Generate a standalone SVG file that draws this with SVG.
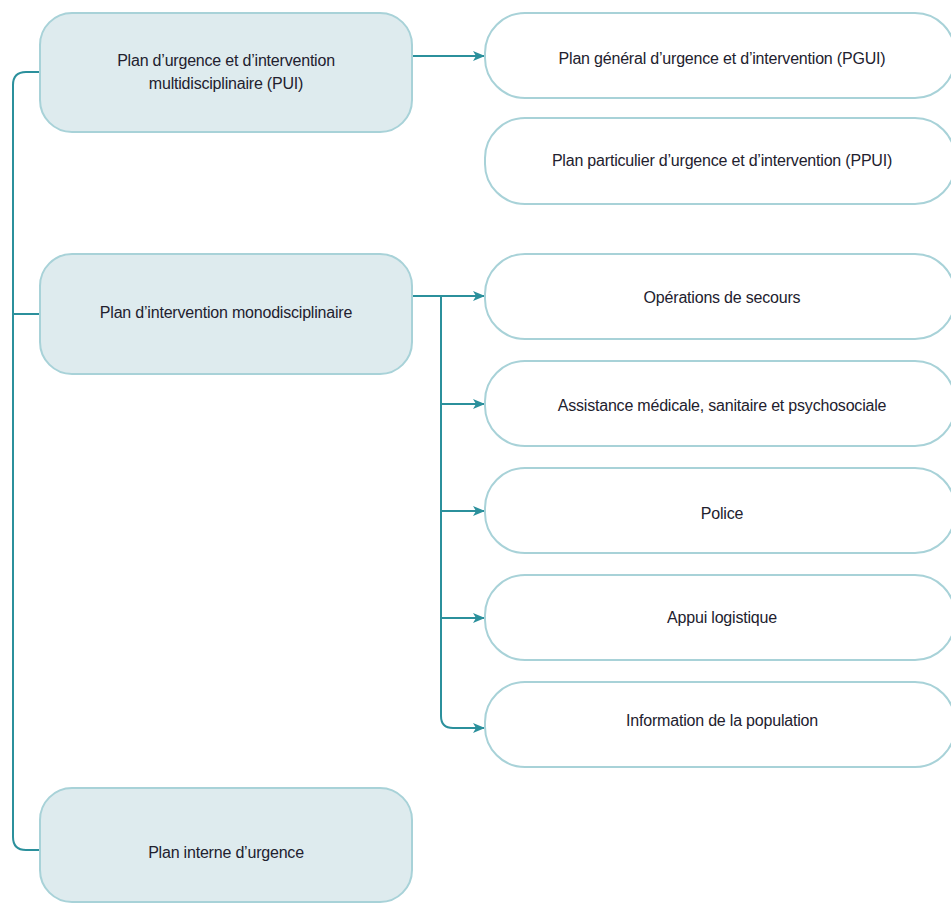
<svg xmlns="http://www.w3.org/2000/svg" width="951" height="903" viewBox="0 0 951 903">
<style>
.main{fill:#deebee;stroke:#a8d2d8;stroke-width:2}
.sub{fill:#ffffff;stroke:#a8d2d8;stroke-width:2}
text{font-family:"Liberation Sans",Arial,sans-serif;font-size:16px;fill:#22212e;text-anchor:middle;letter-spacing:-0.2px}
.conn{fill:none;stroke:#2b909c;stroke-width:2}
</style>
<defs>
<marker id="arr" markerWidth="12" markerHeight="10" refX="11" refY="5" orient="auto" markerUnits="userSpaceOnUse">
<path d="M0,0 L12,5 L0,10 L3,5 Z" fill="#2b909c"/>
</marker>
</defs>
<rect width="951" height="903" fill="#ffffff"/>
<g id="connectors">
<path class="conn" d="M40,72 H26 Q13,72 13,85 V837 Q13,850 26,850 H40"/>
<path class="conn" d="M13,314 H40"/>
<path class="conn" d="M412,56 H484" marker-end="url(#arr)"/>
<path class="conn" d="M412,296 H484" marker-end="url(#arr)"/>
<path class="conn" d="M441,296 V716 Q441,728 453,728 H484" marker-end="url(#arr)"/>
<path class="conn" d="M441,404 H484" marker-end="url(#arr)"/>
<path class="conn" d="M441,511 H484" marker-end="url(#arr)"/>
<path class="conn" d="M441,618 H484" marker-end="url(#arr)"/>
</g>
<g id="pui">
<rect class="main" x="40" y="13" width="372" height="119" rx="32"/>
<text x="226" y="66">Plan d’urgence et d’intervention</text>
<text x="226" y="89">multidisciplinaire (PUI)</text>
</g>
<g id="mono">
<rect class="main" x="40" y="254" width="372" height="120" rx="32"/>
<text x="226" y="318">Plan d’intervention monodisciplinaire</text>
</g>
<g id="interne">
<rect class="main" x="40" y="788" width="372" height="114" rx="32"/>
<text x="226" y="858">Plan interne d’urgence</text>
</g>
<g id="pgui">
<rect class="sub" x="485" y="13" width="470" height="85" rx="40"/>
<text x="722" y="64">Plan général d’urgence et d’intervention (PGUI)</text>
</g>
<g id="ppui">
<rect class="sub" x="485" y="118" width="470" height="86" rx="40"/>
<text x="722" y="166">Plan particulier d’urgence et d’intervention (PPUI)</text>
</g>
<g id="secours">
<rect class="sub" x="485" y="254" width="470" height="85" rx="40"/>
<text x="722" y="303">Opérations de secours</text>
</g>
<g id="assistance">
<rect class="sub" x="485" y="361" width="470" height="85" rx="40"/>
<text x="722" y="411">Assistance médicale, sanitaire et psychosociale</text>
</g>
<g id="police">
<rect class="sub" x="485" y="468" width="470" height="85" rx="40"/>
<text x="722" y="519">Police</text>
</g>
<g id="appui">
<rect class="sub" x="485" y="575" width="470" height="85" rx="40"/>
<text x="722" y="623">Appui logistique</text>
</g>
<g id="information">
<rect class="sub" x="485" y="682" width="470" height="85" rx="40"/>
<text x="722" y="726">Information de la population</text>
</g>
</svg>
